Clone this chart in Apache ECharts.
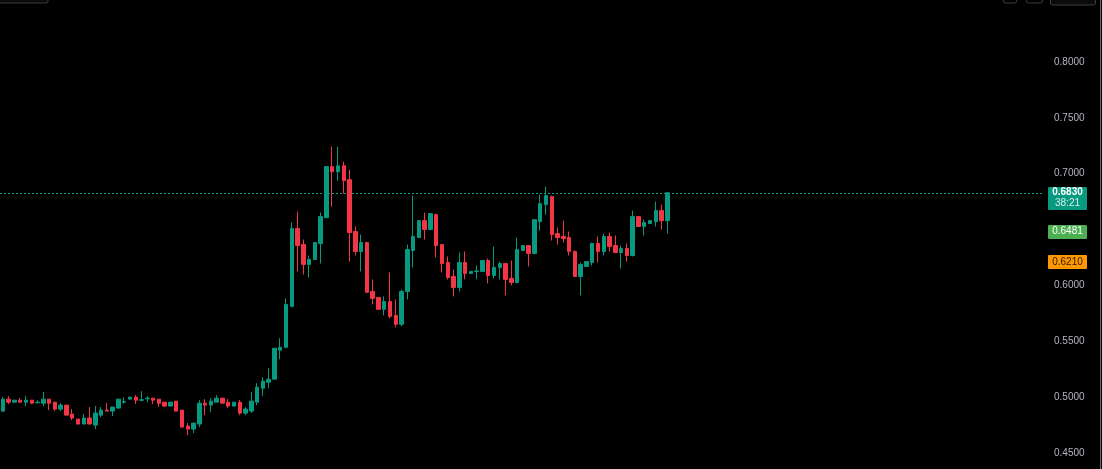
<!DOCTYPE html>
<html>
<head>
<meta charset="utf-8">
<script src="https://cdn.jsdelivr.net/npm/echarts@6/dist/echarts.min.js"></script>
<style>
  html, body { margin: 0; padding: 0; background: #000; }
  #chart { width: 1102px; height: 469px; }
</style>
</head>
<body>
<div id="chart"></div>
<script>
// ---- data ----
const opens = [
  0.4875,0.4982,0.4955,0.4973,0.4955,0.4973,0.4950,0.4946,0.4982,0.4955,
  0.4893,0.4929,0.4848,0.4804,0.4759,0.4813,0.4750,0.4839,0.4884,0.4875,
  0.4902,0.4955,0.4982,0.5000,0.4973,0.4985,0.4991,0.4982,0.4955,0.4920,
  0.4964,0.4884,0.4741,0.4714,0.4759,0.4946,0.4929,0.4955,0.4991,0.4955,
  0.4920,0.4955,0.4857,0.4875,0.4955,0.5080,0.5134,0.5161,0.5420,0.5446,
  0.5813,0.6509,0.6366,0.6188,0.6232,0.6375,0.6607,0.7063,0.7018,0.7071,
  0.6946,0.6482,0.6304,0.6384,0.5946,0.5893,0.5786,0.5857,0.5732,0.5652,
  0.5946,0.6313,0.6429,0.6580,0.6500,0.6634,0.6366,0.6205,0.6080,0.5982,
  0.6205,0.6107,0.6125,0.6125,0.6223,0.6089,0.6161,0.6196,0.6063,0.6027,
  0.6313,0.6357,0.6286,0.6571,0.6723,0.6795,0.6464,0.6438,0.6429,0.6304,
  0.6080,0.6170,0.6205,0.6375,0.6304,0.6438,0.6357,0.6295,0.6330,0.6268,
  0.6616,0.6527,0.6554,0.6571,0.6670,0.6580
];
const closes = [
  0.4982,0.4955,0.4973,0.4955,0.4973,0.4946,0.4955,0.4982,0.4946,0.4893,
  0.4929,0.4839,0.4813,0.4759,0.4813,0.4759,0.4857,0.4884,0.4875,0.4911,
  0.4982,0.4960,0.5000,0.4973,0.4976,0.4991,0.4973,0.4946,0.4920,0.4955,
  0.4875,0.4732,0.4714,0.4768,0.4946,0.4929,0.4964,0.4991,0.4946,0.4920,
  0.4955,0.4857,0.4893,0.4964,0.5089,0.5143,0.5161,0.5438,0.5446,0.5830,
  0.6509,0.6357,0.6188,0.6232,0.6384,0.6616,0.7063,0.7018,0.7071,0.6938,
  0.6473,0.6304,0.6384,0.5938,0.5884,0.5786,0.5857,0.5723,0.5652,0.5946,
  0.6321,0.6438,0.6580,0.6500,0.6643,0.6357,0.6196,0.6071,0.5982,0.6205,
  0.6107,0.6125,0.6130,0.6223,0.6089,0.6161,0.6196,0.6054,0.6027,0.6321,
  0.6357,0.6286,0.6589,0.6732,0.6804,0.6455,0.6429,0.6420,0.6304,0.6080,
  0.6188,0.6214,0.6375,0.6304,0.6438,0.6348,0.6295,0.6330,0.6268,0.6616,
  0.6527,0.6563,0.6580,0.6670,0.6580,0.6830
];
const lows = [
  0.4866,0.4938,0.4953,0.4953,0.4920,0.4938,0.4946,0.4920,0.4884,0.4875,
  0.4875,0.4839,0.4795,0.4759,0.4759,0.4759,0.4714,0.4821,0.4875,0.4830,
  0.4902,0.4941,0.4982,0.4938,0.4964,0.4955,0.4938,0.4911,0.4911,0.4920,
  0.4875,0.4732,0.4660,0.4679,0.4732,0.4839,0.4866,0.4955,0.4946,0.4902,
  0.4920,0.4839,0.4839,0.4857,0.4929,0.5009,0.5080,0.5161,0.5339,0.5438,
  0.5804,0.6125,0.6098,0.6071,0.6232,0.6196,0.6607,0.6705,0.6938,0.6821,
  0.6214,0.6268,0.6125,0.5938,0.5830,0.5786,0.5732,0.5705,0.5625,0.5634,
  0.5875,0.6161,0.6429,0.6411,0.6500,0.6250,0.6116,0.6054,0.5902,0.5946,
  0.6054,0.6107,0.6054,0.6125,0.6018,0.6063,0.6054,0.5911,0.6000,0.6018,
  0.6313,0.6170,0.6286,0.6491,0.6634,0.6402,0.6366,0.6384,0.6268,0.6080,
  0.5911,0.6170,0.6179,0.6205,0.6268,0.6304,0.6295,0.6152,0.6214,0.6259,
  0.6527,0.6446,0.6554,0.6527,0.6500,0.6464
];
const highs = [
  0.5000,0.5009,0.4975,0.4991,0.5009,0.4975,0.4973,0.5045,0.4982,0.4955,
  0.4946,0.4929,0.4893,0.4804,0.4848,0.4911,0.4920,0.4911,0.4946,0.4911,
  0.4982,0.4997,0.5000,0.5018,0.5054,0.5009,0.4991,0.4982,0.4955,0.4955,
  0.4964,0.4884,0.4768,0.4768,0.4973,0.4982,0.4991,0.5018,0.4991,0.4982,
  0.4955,0.4973,0.4911,0.5045,0.5125,0.5179,0.5259,0.5438,0.5527,0.5884,
  0.6563,0.6660,0.6411,0.6268,0.6384,0.6652,0.7063,0.7241,0.7241,0.7107,
  0.7036,0.6527,0.6455,0.6384,0.6054,0.5893,0.5902,0.6116,0.5875,0.5964,
  0.6366,0.6804,0.6580,0.6652,0.6643,0.6643,0.6366,0.6259,0.6143,0.6295,
  0.6304,0.6125,0.6179,0.6223,0.6241,0.6348,0.6214,0.6196,0.6223,0.6429,
  0.6357,0.6357,0.6589,0.6813,0.6884,0.6804,0.6518,0.6580,0.6482,0.6313,
  0.6205,0.6214,0.6384,0.6438,0.6464,0.6473,0.6446,0.6357,0.6375,0.6670,
  0.6616,0.6589,0.6580,0.6750,0.6723,0.6830
];
const yTicks = [0.45, 0.50, 0.55, 0.60, 0.65, 0.70, 0.75, 0.80];
const hiddenTick = 0.65;           // covered by the 0.6481 tag in the reference
const lastPrice = 0.6830;
const countdown = '38:21';
const tagValues = [0.6481, 0.6210];
const emptySlots = 64;              // right-side empty space of the time axis

// ---- build ----
const categories = [];
for (let i = 0; i < opens.length + emptySlots; i++) categories.push(String(i + 1));
const ohlc = opens.map((o, i) => [o, closes[i], lows[i], highs[i]]);

const UP = '#089981', DOWN = '#f23645';
const FONT = 'Liberation Sans, Arial, sans-serif';

const chart = echarts.init(document.getElementById('chart'), null, { renderer: 'canvas' });
chart.setOption({
  backgroundColor: '#000000',
  animation: false,
  grid: { left: 0, right: 62, top: 62, bottom: 16 },
  xAxis: {
    type: 'category',
    data: categories,
    boundaryGap: true,
    axisLine: { show: false },
    axisTick: { show: false },
    axisLabel: { show: false },
    splitLine: { show: false }
  },
  yAxis: {
    type: 'value',
    position: 'right',
    min: yTicks[0],
    max: yTicks[yTicks.length - 1],
    interval: 0.05,
    axisLine: { show: false },
    axisTick: { show: false },
    splitLine: { show: false },
    axisLabel: {
      margin: 14,
      color: '#b2b5be',
      fontSize: 10,
      fontFamily: FONT,
      formatter: v => (Math.abs(v - hiddenTick) < 1e-6 ? '' : v.toFixed(4))
    }
  },
  series: [{
    type: 'candlestick',
    data: ohlc,
    barWidth: 4,
    itemStyle: {
      color: UP, color0: DOWN,
      borderColor: UP, borderColor0: DOWN, borderColorDoji: UP,
      borderWidth: 1
    }
  }]
});

// last-price line and price tags, positioned through the y scale
function yPx(v) { return chart.convertToPixel({ yAxisIndex: 0 }, v); }
const tagX = 1048, tagW = 39;
const graphics = [];
const pLast = yPx(lastPrice);
const lineY = Math.round(pLast) + 0.5;
graphics.push({
  type: 'line', silent: true, z: 0,
  shape: { x1: 0, y1: lineY, x2: 1044, y2: lineY },
  style: { stroke: '#12a58c', lineWidth: 1, lineDash: [2, 2] }
});
graphics.push({
  type: 'rect', shape: { x: tagX, y: Math.round(pLast) - 6, width: tagW, height: 23, r: 1 },
  style: { fill: UP }
});
graphics.push({
  type: 'text', x: tagX + tagW / 2, y: pLast,
  style: { text: lastPrice.toFixed(4), fill: '#ffffff', font: 'bold 10px ' + FONT, align: 'center', verticalAlign: 'middle' }
});
graphics.push({
  type: 'text', x: tagX + tagW / 2, y: pLast + 11,
  style: { text: countdown, fill: '#d8f0ea', font: '10px ' + FONT, align: 'center', verticalAlign: 'middle' }
});
const tagStyles = [{ bg: '#4caf50', fg: '#ffffff' }, { bg: '#ff9800', fg: '#2a1a00' }];
tagValues.forEach((v, i) => {
  const p = yPx(v);
  graphics.push({
    type: 'rect', shape: { x: tagX, y: Math.round(p) - 7, width: tagW, height: 14, r: 1 },
    style: { fill: tagStyles[i].bg }
  });
  graphics.push({
    type: 'text', x: tagX + tagW / 2, y: p,
    style: { text: v.toFixed(4), fill: tagStyles[i].fg, font: '10px ' + FONT, align: 'center', verticalAlign: 'middle' }
  });
});
// right edge separator and toolbar remnants at the top
graphics.push({ type: 'line', shape: { x1: 1100.5, y1: 0, x2: 1100.5, y2: 469 }, style: { stroke: '#6a6d78', lineWidth: 1 } });
graphics.push({ type: 'rect', shape: { x: -2, y: -6, width: 50, height: 9, r: 2 }, style: { fill: '#0b0b0b', stroke: '#3a3d46', lineWidth: 1 } });
graphics.push({ type: 'rect', shape: { x: 1003.5, y: -6, width: 13, height: 9, r: 2 }, style: { fill: '#000', stroke: '#3a3d46', lineWidth: 1 } });
graphics.push({ type: 'rect', shape: { x: 1026.5, y: -6, width: 16, height: 9, r: 2 }, style: { fill: '#000', stroke: '#3a3d46', lineWidth: 1 } });
graphics.push({ type: 'rect', shape: { x: 1050.5, y: -6, width: 45, height: 11, r: 2 }, style: { fill: '#0b0b0b', stroke: '#3a3d46', lineWidth: 1 } });

chart.setOption({ graphic: graphics });
</script>
</body>
</html>
